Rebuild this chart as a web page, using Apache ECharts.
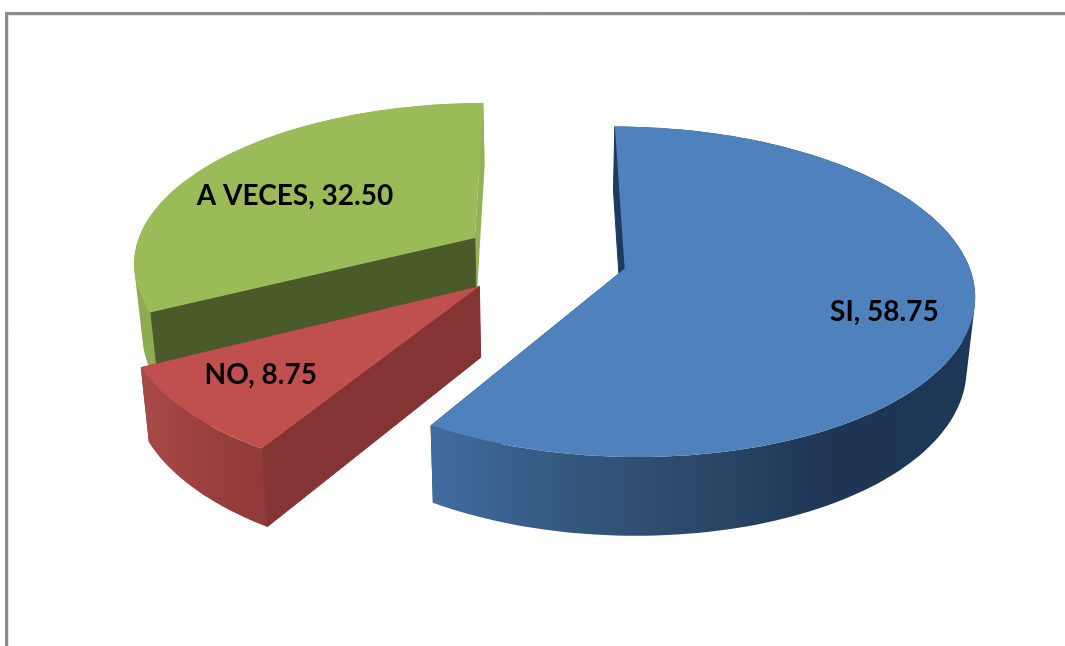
<!DOCTYPE html>
<html>
<head>
<meta charset="utf-8">
<style>html,body{margin:0;padding:0;background:#fff}#c{width:1065px;height:646px}</style>
<script src="https://cdn.jsdelivr.net/npm/echarts@6/dist/echarts.min.js"></script>
</head>
<body>
<div id="c"></div>
<script>
const categories = ['SI', 'NO', 'A VECES'];
const values = [58.75, 8.75, 32.50];

// Look of each slice, in the same order as the categories
const topColors = ['#4f81bd', '#c0504d', '#9bbb59'];
const sideRamps = [
  ['#406c9e', '#34587f', '#2b4768', '#1e3553', '#1f3858'],
  ['#a94a48', '#9b403f', '#913a39'],
  ['#8fab52', '#93b257']
];
const startWallColors = ['#1d3a60', '#843433', '#4a5a28'];
const endWallColors = ['#1d3a60', '#843433', '#93b257'];
const stacking = [30, 20, 10];
const labelAnchors = [[0.716, 0.261], [-0.566, 0.496], [-0.564, -0.282]];
const explodes = [0.24, 0.255, 0.245];

// Projection of the tilted pie
const cx = 545, cy = 258, rx = 342, ry = 159, persp = 0.14;
const depth = 70, depthScaleX = 0.98, depthGrowY = 7;

function project(U, V, bottom) {
  const w = 1 - persp * V;
  if (!bottom) return [cx + rx * U / w, cy + ry * V / w];
  return [cx + rx * depthScaleX * U / w, cy + depth + (ry + depthGrowY) * V / w];
}

const total = values.reduce((a, b) => a + b, 0);

function renderItem(params) {
  const i = params.dataIndex;
  let before = 0;
  for (let k = 0; k < i; k++) before += values[k];
  const a0 = before / total * 2 * Math.PI;
  const a1 = (before + values[i]) / total * 2 * Math.PI;
  const mid = (a0 + a1) / 2;
  const ox = explodes[i] * Math.sin(mid), oy = -explodes[i] * Math.cos(mid);
  const rim = (a, bottom) => project(ox + Math.sin(a), oy - Math.cos(a), bottom);
  const apex = bottom => project(ox, oy, bottom);

  const z = stacking[i];
  const children = [];
  const poly = (points, fill, zz, seal) => children.push({
    type: 'polygon',
    shape: { points },
    style: seal ? { fill, stroke: fill, lineWidth: 1 } : { fill, lineWidth: 0 },
    z2: z + zz
  });

  // Far flat wall goes behind everything else in the slice
  poly([apex(false), rim(a1, false), rim(a1, true), apex(true)], endWallColors[i], 0, false);

  // Curved outer wall: one path made of narrow pieces, filled at once so no seams show
  const steps = Math.max(4, Math.round((a1 - a0) / (1.5 * Math.PI / 180)));
  const pts = [];
  for (let s = 0; s <= steps; s++) pts.push(a0 + (a1 - a0) * s / steps);
  const xs = pts.map(a => rim(a, false)[0]);
  const xMin = Math.min(...xs), xMax = Math.max(...xs);
  const ramp = sideRamps[i];
  const grad = new echarts.graphic.LinearGradient(xMin, 0, xMax, 0,
    ramp.map((color, k) => ({ offset: k / (ramp.length - 1), color })), true);
  let d = '';
  for (let s = 0; s < steps; s++) {
    const q = [rim(pts[s], false), rim(pts[s + 1], false), rim(pts[s + 1], true), rim(pts[s], true)];
    // Keep every piece wound the same way so the whole band fills solid
    const area = q.reduce((acc, p, n) => {
      const r = q[(n + 1) % 4];
      return acc + p[0] * r[1] - r[0] * p[1];
    }, 0);
    if (area < 0) q.reverse();
    d += 'M' + q.map(p => p[0].toFixed(2) + ' ' + p[1].toFixed(2)).join('L') + 'Z';
  }
  children.push({
    type: 'path',
    shape: { pathData: d },
    style: { fill: grad, lineWidth: 0 },
    z2: z + 1
  });

  // Near flat wall, sealed against the curved wall
  poly([apex(false), rim(a0, false), rim(a0, true), apex(true)], startWallColors[i], 2, true);

  // Top face
  const face = [apex(false)];
  pts.forEach(a => face.push(rim(a, false)));
  poly(face, topColors[i], 3, false);

  // Data label
  const lp = project(ox + labelAnchors[i][0], oy + labelAnchors[i][1], false);
  children.push({
    type: 'text',
    z2: 100,
    style: {
      text: categories[i] + ', ' + values[i].toFixed(2),
      x: lp[0], y: lp[1],
      fill: '#000',
      font: 'bold 28px Lato, sans-serif',
      align: 'center', verticalAlign: 'middle'
    }
  });
  return { type: 'group', children };
}

const chart = echarts.init(document.getElementById('c'), null, { renderer: 'canvas' });
chart.setOption({
  animation: false,
  backgroundColor: '#fff',
  graphic: [{
    type: 'rect', silent: true, z: 0,
    shape: { x: 6.5, y: 13.5, width: 1200, height: 800 },
    style: { fill: 'transparent', stroke: '#8c8c8c', lineWidth: 3 }
  }, {
    type: 'rect', silent: true, z: 0,
    shape: { x: 8.5, y: 15.5, width: 1200, height: 800 },
    style: { fill: 'transparent', stroke: '#e4e4e4', lineWidth: 1 }
  }],
  series: [{
    type: 'custom',
    coordinateSystem: 'none',
    renderItem,
    data: values.map((v, i) => ({ name: categories[i], value: v }))
  }]
});
</script>
</body>
</html>
